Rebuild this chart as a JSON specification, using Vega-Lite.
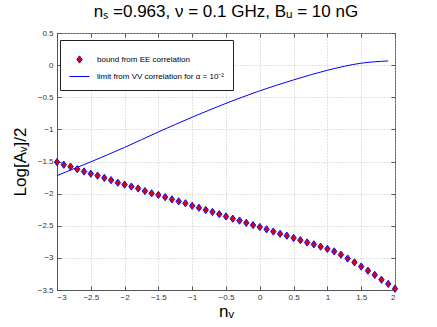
{
  "$schema": "https://vega.github.io/schema/vega-lite/v6.json",
  "width": 338,
  "height": 257,
  "autosize": {"type": "none"},
  "padding": {"left": 57, "top": 33, "right": 42, "bottom": 37},
  "background": "white",
  "title": {"text": "nₛ =0.963, ν = 0.1 GHz, Bᵤ = 10 nG", "font": "Liberation Sans", "fontSize": 17, "fontWeight": "normal", "color": "black", "anchor": "middle", "offset": 8},
  "config": {
    "view": {"stroke": "#555", "strokeWidth": 1},
    "axis": {
      "labelFont": "Liberation Sans", "labelFontSize": 8, "labelColor": "#333",
      "titleFont": "Liberation Sans", "titleFontSize": 17, "titleFontWeight": "normal", "titleColor": "black",
      "domainColor": "#555", "tickColor": "#555", "tickSize": -4,
      "gridColor": "#c4c4c4", "gridDash": [1, 2], "gridWidth": 1
    }
  },
  "datasets": {
    "bound": [
      {"nv": -3.0, "val": -1.51, "series": "bound from EE correlation"},
      {"nv": -2.9, "val": -1.55, "series": "bound from EE correlation"},
      {"nv": -2.8, "val": -1.58, "series": "bound from EE correlation"},
      {"nv": -2.7, "val": -1.62, "series": "bound from EE correlation"},
      {"nv": -2.6, "val": -1.655, "series": "bound from EE correlation"},
      {"nv": -2.5, "val": -1.69, "series": "bound from EE correlation"},
      {"nv": -2.4, "val": -1.72, "series": "bound from EE correlation"},
      {"nv": -2.3, "val": -1.755, "series": "bound from EE correlation"},
      {"nv": -2.2, "val": -1.79, "series": "bound from EE correlation"},
      {"nv": -2.1, "val": -1.83, "series": "bound from EE correlation"},
      {"nv": -2.0, "val": -1.86, "series": "bound from EE correlation"},
      {"nv": -1.9, "val": -1.89, "series": "bound from EE correlation"},
      {"nv": -1.8, "val": -1.92, "series": "bound from EE correlation"},
      {"nv": -1.7, "val": -1.96, "series": "bound from EE correlation"},
      {"nv": -1.6, "val": -1.995, "series": "bound from EE correlation"},
      {"nv": -1.5, "val": -2.02, "series": "bound from EE correlation"},
      {"nv": -1.4, "val": -2.055, "series": "bound from EE correlation"},
      {"nv": -1.3, "val": -2.09, "series": "bound from EE correlation"},
      {"nv": -1.2, "val": -2.12, "series": "bound from EE correlation"},
      {"nv": -1.1, "val": -2.15, "series": "bound from EE correlation"},
      {"nv": -1.0, "val": -2.19, "series": "bound from EE correlation"},
      {"nv": -0.9, "val": -2.22, "series": "bound from EE correlation"},
      {"nv": -0.8, "val": -2.255, "series": "bound from EE correlation"},
      {"nv": -0.7, "val": -2.285, "series": "bound from EE correlation"},
      {"nv": -0.6, "val": -2.32, "series": "bound from EE correlation"},
      {"nv": -0.5, "val": -2.355, "series": "bound from EE correlation"},
      {"nv": -0.4, "val": -2.39, "series": "bound from EE correlation"},
      {"nv": -0.3, "val": -2.42, "series": "bound from EE correlation"},
      {"nv": -0.2, "val": -2.455, "series": "bound from EE correlation"},
      {"nv": -0.1, "val": -2.49, "series": "bound from EE correlation"},
      {"nv": 0.0, "val": -2.52, "series": "bound from EE correlation"},
      {"nv": 0.1, "val": -2.555, "series": "bound from EE correlation"},
      {"nv": 0.2, "val": -2.59, "series": "bound from EE correlation"},
      {"nv": 0.3, "val": -2.625, "series": "bound from EE correlation"},
      {"nv": 0.4, "val": -2.655, "series": "bound from EE correlation"},
      {"nv": 0.5, "val": -2.69, "series": "bound from EE correlation"},
      {"nv": 0.6, "val": -2.725, "series": "bound from EE correlation"},
      {"nv": 0.7, "val": -2.76, "series": "bound from EE correlation"},
      {"nv": 0.8, "val": -2.79, "series": "bound from EE correlation"},
      {"nv": 0.9, "val": -2.825, "series": "bound from EE correlation"},
      {"nv": 1.0, "val": -2.86, "series": "bound from EE correlation"},
      {"nv": 1.1, "val": -2.9, "series": "bound from EE correlation"},
      {"nv": 1.2, "val": -2.95, "series": "bound from EE correlation"},
      {"nv": 1.3, "val": -3.01, "series": "bound from EE correlation"},
      {"nv": 1.4, "val": -3.07, "series": "bound from EE correlation"},
      {"nv": 1.5, "val": -3.135, "series": "bound from EE correlation"},
      {"nv": 1.6, "val": -3.2, "series": "bound from EE correlation"},
      {"nv": 1.7, "val": -3.265, "series": "bound from EE correlation"},
      {"nv": 1.8, "val": -3.34, "series": "bound from EE correlation"},
      {"nv": 1.9, "val": -3.405, "series": "bound from EE correlation"},
      {"nv": 2.0, "val": -3.48, "series": "bound from EE correlation"}
    ],
    "limit": [
      {"nv": -3.0, "val": -1.72, "series": "limit from VV correlation for α = 10⁻²"},
      {"nv": -2.5, "val": -1.505, "series": "limit from VV correlation for α = 10⁻²"},
      {"nv": -2.0, "val": -1.28, "series": "limit from VV correlation for α = 10⁻²"},
      {"nv": -1.5, "val": -1.04, "series": "limit from VV correlation for α = 10⁻²"},
      {"nv": -1.0, "val": -0.81, "series": "limit from VV correlation for α = 10⁻²"},
      {"nv": -0.5, "val": -0.595, "series": "limit from VV correlation for α = 10⁻²"},
      {"nv": 0.0, "val": -0.4, "series": "limit from VV correlation for α = 10⁻²"},
      {"nv": 0.5, "val": -0.23, "series": "limit from VV correlation for α = 10⁻²"},
      {"nv": 1.0, "val": -0.08, "series": "limit from VV correlation for α = 10⁻²"},
      {"nv": 1.5, "val": 0.03, "series": "limit from VV correlation for α = 10⁻²"},
      {"nv": 1.9, "val": 0.065, "series": "limit from VV correlation for α = 10⁻²"}
    ]
  },
  "layer": [
    {"data": {"name": "limit"}, "mark": {"type": "line", "strokeWidth": 1, "interpolate": "monotone"},
      "encoding": {
        "x": {"field": "nv", "type": "quantitative", "scale": {"domain": [-3, 2], "nice": false, "zero": false},
          "axis": {"title": "nᵥ", "grid": true, "values": [-3, -2.5, -2, -1.5, -1, -0.5, 0, 0.5, 1, 1.5, 2], "format": "~g", "labelPadding": 7, "titlePadding": 2}},
        "y": {"field": "val", "type": "quantitative", "scale": {"domain": [-3.5, 0.5], "nice": false, "zero": false},
          "axis": {"title": "Log[Aᵥ]/2", "grid": true, "values": [-3.5, -3, -2.5, -2, -1.5, -1, -0.5, 0, 0.5], "format": "~g", "labelPadding": 8, "titlePadding": 8}},
        "stroke": {"field": "series", "type": "nominal",
          "scale": {"domain": ["bound from EE correlation", "limit from VV correlation for α = 10⁻²"], "range": ["#1010ff", "#0000ff"]},
          "legend": {
            "title": null, "orient": "none", "legendX": 3, "legendY": 7,
            "strokeColor": "#222", "fillColor": "white", "padding": 9,
            "labelFont": "Liberation Sans", "labelFontSize": 8, "labelColor": "black",
            "symbolSize": 400, "rowPadding": 0, "labelOffset": 7,
            "encode": {"symbols": {"update": {
              "shape": {"signal": "datum.index === 0 ? 'M0,-1.15L0.85,0L0,1.15L-0.85,0Z' : 'stroke'"},
              "size": {"signal": "datum.index === 0 ? 40 : 400"},
              "fill": {"signal": "datum.index === 0 ? '#e00000' : 'transparent'"},
              "fillOpacity": {"value": 1},
              "opacity": {"value": 1},
              "stroke": {"value": "#0000ff"},
              "strokeWidth": {"value": 1}
            }}}
          }}
      }},
    {"data": {"name": "bound"}, "mark": {"type": "point", "shape": "M0,-1.15L0.85,0L0,1.15L-0.85,0Z", "filled": true, "fill": "#e00000", "size": 40, "strokeWidth": 1, "opacity": 1},
      "encoding": {
        "x": {"field": "nv", "type": "quantitative",
          "axis": {"orient": "top", "title": null, "labels": false, "grid": false, "domain": false, "values": [-3, -2.5, -2, -1.5, -1, -0.5, 0, 0.5, 1, 1.5, 2]}},
        "y": {"field": "val", "type": "quantitative",
          "axis": {"orient": "right", "title": null, "labels": false, "grid": false, "domain": false, "values": [-3.5, -3, -2.5, -2, -1.5, -1, -0.5, 0, 0.5]}},
        "stroke": {"field": "series", "type": "nominal"}
      }}
  ],
  "resolve": {"axis": {"x": "independent", "y": "independent"}}
}
